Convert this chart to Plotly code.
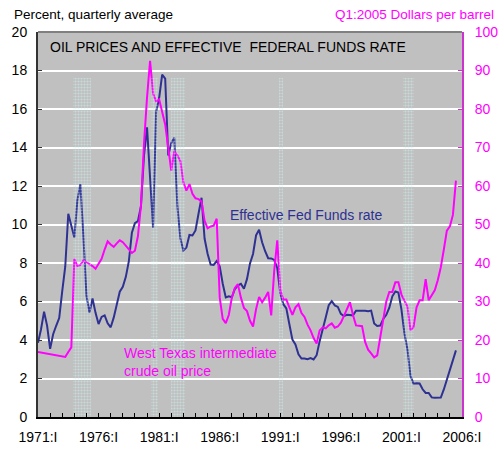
import plotly.graph_objects as go

# ---------------- data ----------------
start_year = 1971
quarters_per_year = 4

fed_funds = [
    3.86, 4.56, 5.47, 4.75,     # 1971
    3.54, 4.30, 4.74, 5.14,     # 1972
    6.54, 7.82, 10.56, 10.00,   # 1973
    9.32, 11.25, 12.09, 9.35,   # 1974
    6.30, 5.42, 6.16, 5.41,     # 1975
    4.83, 5.20, 5.28, 4.87,     # 1976
    4.66, 5.16, 5.82, 6.51,     # 1977
    6.76, 7.28, 8.10, 9.58,     # 1978
    10.07, 10.18, 10.95, 13.58, # 1979
    15.05, 12.69, 9.84, 15.85,  # 1980
    16.57, 17.78, 17.58, 13.59, # 1981
    14.23, 14.51, 11.01, 9.29,  # 1982
    8.65, 8.80, 9.46, 9.43,     # 1983
    9.69, 10.56, 11.39, 9.27,   # 1984
    8.48, 7.92, 7.90, 8.10,     # 1985
    7.83, 6.92, 6.21, 6.27,     # 1986
    6.22, 6.65, 6.84, 6.92,     # 1987
    6.66, 7.16, 7.98, 8.47,     # 1988
    9.44, 9.73, 9.08, 8.61,     # 1989
    8.25, 8.24, 8.16, 7.74,     # 1990
    6.43, 5.86, 5.64, 4.82,     # 1991
    4.02, 3.77, 3.26, 3.04,     # 1992
    3.04, 3.00, 3.06, 2.99,     # 1993
    3.21, 3.94, 4.49, 5.17,     # 1994
    5.81, 6.02, 5.80, 5.72,     # 1995
    5.36, 5.24, 5.31, 5.28,     # 1996
    5.28, 5.52, 5.53, 5.51,     # 1997
    5.52, 5.50, 5.53, 4.86,     # 1998
    4.73, 4.75, 5.09, 5.31,     # 1999
    5.68, 6.27, 6.52, 6.47,     # 2000
    5.59, 4.33, 3.50, 2.13,     # 2001
    1.73, 1.75, 1.74, 1.44,     # 2002
    1.25, 1.25, 1.02, 1.00,     # 2003
    1.00, 1.01, 1.43, 1.95,     # 2004
    2.47, 2.94, 3.46,           # 2005
]

oil_price = [
    16.9, 16.75, 16.6, 16.45,   # 1971
    16.3, 16.2, 16.05, 15.9,    # 1972
    15.75, 15.6, 16.9, 18.1,    # 1973
    41.1, 39.2, 39.5, 40.7,     # 1974
    40.2, 39.8, 39.2, 38.5,     # 1975
    39.8, 41.1, 43.5, 45.6,     # 1976
    44.8, 44.2, 45.1, 45.9,     # 1977
    45.4, 44.4, 43.3, 42.6,     # 1978
    43.2, 47.0, 55.0, 71.0,     # 1979
    83.0, 92.5, 84.0, 82.0,     # 1980
    82.5, 79.0, 76.0, 70.0,     # 1981
    64.0, 69.0, 68.0, 66.5,     # 1982
    61.0, 58.8, 60.5, 58.0,     # 1983
    56.8, 56.6, 56.0, 51.0,     # 1984
    49.0, 49.5, 49.7, 51.5,     # 1985
    31.0, 25.5, 24.4, 26.5,     # 1986
    31.0, 33.5, 34.5, 31.0,     # 1987
    28.3, 27.5, 25.0, 23.5,     # 1988
    28.0, 31.2, 29.8, 31.0,     # 1989
    32.5, 26.4, 38.0, 45.9,     # 1990
    33.0, 30.5, 30.5, 28.5,     # 1991
    26.5, 28.5, 29.3, 27.0,     # 1992
    26.0, 24.0, 22.5, 20.5,     # 1993
    19.1, 22.5, 23.3, 23.0,     # 1994
    23.8, 24.3, 23.2, 23.5,     # 1995
    24.5, 26.2, 28.0, 29.8,     # 1996
    26.5, 23.8, 23.7, 23.6,     # 1997
    19.5, 17.5, 16.5, 15.5,     # 1998
    16.0, 20.5, 25.0, 30.0,     # 1999
    32.5, 32.5, 35.0, 35.0,     # 2000
    31.8, 30.0, 28.6, 22.5,     # 2001
    23.4, 28.5, 30.3, 30.3,     # 2002
    35.8, 30.3, 31.5, 32.9,     # 2003
    35.5, 38.9, 43.5, 48.4,     # 2004
    49.5, 52.5, 61.4,           # 2005
]

# recession bands (start, end) in fractional years as drawn
recession_start = [1973.9, 1980.35, 1982.0, 1990.9, 2001.15]
recession_end = [1975.4, 1980.9, 1983.1, 1991.2, 2002.05]
band_top = 17.6

tick_years = [1971, 1976, 1981, 1986, 1991, 1996, 2001, 2006]
tick_labels = [f"{y}:I" for y in tick_years]
left_ticks = list(range(0, 21, 2))
right_ticks = list(range(0, 101, 10))

x_q = [start_year + i / quarters_per_year for i in range(len(fed_funds))]

NAVY = "#2e3192"
MAGENTA = "#ff00ff"
FONT = "Liberation Sans, Arial, sans-serif"

fig = go.Figure()

fig.add_trace(go.Scatter(x=x_q, y=fed_funds, mode="lines",
                         line=dict(color=NAVY, width=2), yaxis="y",
                         name="Effective Fed Funds rate", hoverinfo="skip"))
fig.add_trace(go.Scatter(x=x_q, y=oil_price, mode="lines",
                         line=dict(color=MAGENTA, width=2), yaxis="y2",
                         name="WTI", hoverinfo="skip"))

band_x = [(s + e) / 2 for s, e in zip(recession_start, recession_end)]
band_w = [e - s for s, e in zip(recession_start, recession_end)]
fig.add_trace(go.Bar(x=band_x, y=[band_top] * len(band_x), width=band_w,
                     yaxis="y3", hoverinfo="skip",
                     marker=dict(color="rgba(0,0,0,0)", line=dict(width=0),
                                 pattern=dict(shape=".", fgcolor="#ccf4f4",
                                              bgcolor="rgba(0,0,0,0)",
                                              size=3, solidity=0.4))))

fig.update_layout(
    width=501, height=453,
    margin=dict(l=38, r=39, t=32, b=36),
    paper_bgcolor="white",
    plot_bgcolor="#c0c0c0",
    showlegend=False,
    font=dict(family=FONT, size=14, color="black"),
    xaxis=dict(range=[1971, 2006], tickvals=tick_years, ticktext=tick_labels,
               showgrid=False, zeroline=False, showline=True,
               linecolor="black", linewidth=1.5, automargin=False,
               ticks="inside", ticklen=4, tickcolor="black",
               minor=dict(dtick=1, tick0=1971, ticks="inside", ticklen=4,
                          tickcolor="black", showgrid=False),
               tickfont=dict(size=14), ticklabelstandoff=6),
    yaxis=dict(range=[0, 20], tickvals=left_ticks, showgrid=True,
               gridcolor="white", gridwidth=2, zeroline=False,
               showline=True, linecolor="#333333", linewidth=2,
               automargin=False,
               ticks="inside", ticklen=4, tickcolor="#333333",
               tickfont=dict(size=14), ticklabelstandoff=6),
    yaxis2=dict(range=[0, 100], tickvals=right_ticks, overlaying="y",
                side="right", showgrid=False, zeroline=False,
                showline=True, linecolor="#cc33cc", linewidth=2,
                automargin=False,
                ticks="inside", ticklen=4, tickcolor="#cc33cc",
                tickfont=dict(size=14, color=MAGENTA), ticklabelstandoff=8),
    yaxis3=dict(range=[0, 20], overlaying="y", visible=False,
                automargin=False),
    bargap=0,
    shapes=[dict(type="line", xref="paper", yref="paper", x0=0, x1=1,
                 y0=1, y1=1, line=dict(color="#808080", width=2))],
    annotations=[
        dict(text="Percent, quarterly average", xref="paper", yref="paper",
             x=-26 / 424, y=1, yshift=18, xanchor="left",
             yanchor="middle", showarrow=False, font=dict(size=13.5)),
        dict(text="Q1:2005 Dollars per barrel", xref="paper", yref="paper",
             x=1 + 34 / 424, y=1, yshift=18, xanchor="right",
             yanchor="middle", showarrow=False,
             font=dict(size=13.5, color=MAGENTA)),
        dict(text="OIL PRICES AND EFFECTIVE  FEDERAL FUNDS RATE",
             xref="paper", yref="paper", x=10 / 424, y=1, yshift=-15,
             xanchor="left", yanchor="middle", showarrow=False,
             font=dict(size=14)),
        dict(text="Effective Fed Funds rate", xref="paper", yref="paper",
             x=190 / 424, y=(417 - 215) / 385, xanchor="left",
             yanchor="middle", showarrow=False,
             font=dict(size=14, color=NAVY)),
        dict(text="West Texas intermediate<br>crude oil price",
             xref="paper", yref="paper", x=84 / 424, y=(417 - 362) / 385,
             xanchor="left", yanchor="middle", align="left",
             showarrow=False, font=dict(size=14, color=MAGENTA)),
    ],
)

fig.write_html("out.html",
               config={"displayModeBar": False},
               post_script="document.body.style.margin='0';"
                           "document.body.style.padding='0';")
